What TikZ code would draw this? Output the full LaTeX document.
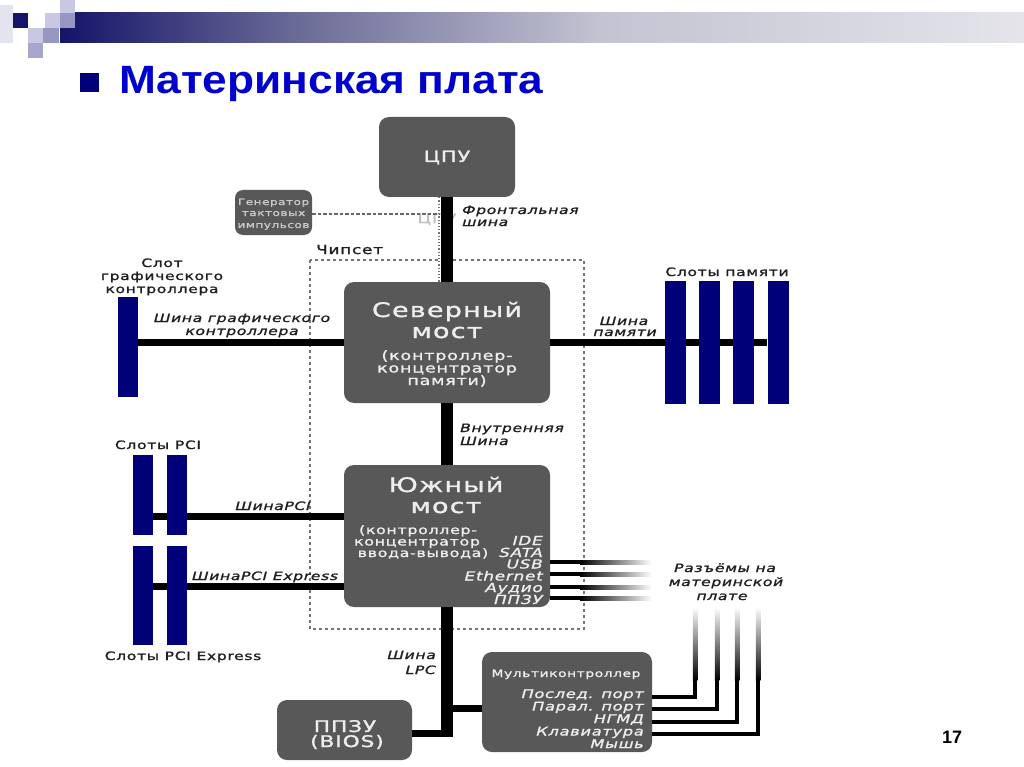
\documentclass[tikz,border=0pt]{standalone}
\usepackage{fontspec}
\setmainfont{Liberation Sans}
\newfontfamily\dv[FakeStretch=1.35,LetterSpace=6,FakeBold=1.4]{DejaVu Sans}
\newfontfamily\ttlfont[FakeStretch=1.12]{Liberation Sans}
\usetikzlibrary{calc}
\definecolor{boxgray}{RGB}{88,88,88}
\definecolor{boxtext}{RGB}{238,238,238}
\definecolor{labtext}{RGB}{30,30,30}
\definecolor{slotblue}{RGB}{0,0,120}
\definecolor{chipgray}{RGB}{110,120,110}
\definecolor{titleblue}{RGB}{0,0,204}
\definecolor{navyA}{RGB}{20,20,105}
\definecolor{bandB}{RGB}{105,105,150}
\definecolor{bandC}{RGB}{195,195,210}
\definecolor{bandD}{RGB}{228,228,234}
\definecolor{sqMed}{RGB}{150,150,195}
\definecolor{sqLight}{RGB}{200,200,228}
\definecolor{sqPale}{RGB}{228,228,240}
\pgfdeclarehorizontalshading{band}{100bp}{color(0bp)=(navyA); color(25bp)=(navyA); color(37bp)=(bandB); color(53bp)=(bandC); color(75bp)=(bandD); color(100bp)=(bandD)}
\begin{document}
\begin{tikzpicture}[x=1pt,y=-1pt,
  box/.style={fill=boxgray, rounded corners=10pt, inner sep=0pt},
  slot/.style={fill=slotblue, inner sep=0pt},
  bus/.style={line width=7pt},
  fatbus/.style={line width=12pt},
  outlet/.style={line width=4pt},
  lab/.style={inner sep=0pt, anchor=base, text=labtext, font=\dv\fontsize{11.5}{13}\selectfont},
  ilab/.style={lab, font=\dv\itshape\fontsize{11.5}{13}\selectfont},
  wl/.style={inner sep=0pt, anchor=base, text=boxtext},
  chip/.style={draw=chipgray, dashed, line width=1.1pt},
]
\useasboundingbox (0,0) rectangle (1024,767);
\fill[white] (0,0) rectangle (1024,767);
% header
\shade[shading=band] (60,13) rectangle (1024,43);
\fill[sqPale] (0,5) rectangle (13,28);
\fill[sqPale] (0,28) rectangle (13,43);
\fill[sqLight] (60,0) rectangle (75,13);
\fill[navyA] (13,13) rectangle (28,28);
\fill[sqLight] (45,13) rectangle (60,28);
\fill[sqMed] (60,13) rectangle (75,28);
\fill[sqLight] (28,28) rectangle (43,43);
\fill[sqMed] (43,28) rectangle (59,43);
\fill[sqMed!85] (28,43) rectangle (43,58);
\fill[slotblue] (80,73) rectangle (99,92);
\node[anchor=base west, inner sep=0pt, text=titleblue, font=\ttlfont\bfseries\fontsize{39.5}{44}\selectfont] (title) at (119,94) {Материнская плата};
\node[anchor=base, inner sep=0pt, font=\bfseries\fontsize{18}{20}\selectfont] (pagenum) at (952,743) {17};

% chipset frame
\draw[chip] (310,260) rectangle (584,629);
\node[lab, anchor=base west, font=\dv\fontsize{12.5}{14}\selectfont] (chiplab) at (316,254) {Чипсет};

% boxes
\node[box, minimum width=136pt, minimum height=80pt] (cpu) at (447,157) {};
\node[box, rounded corners=8pt, minimum width=77pt, minimum height=45pt] (clk) at (273.5,212.5) {};
\node[box, minimum width=206pt, minimum height=121pt] (nb) at (447,342.5) {};
\node[box, minimum width=206pt, minimum height=142pt] (sb) at (447,536) {};
\node[box, minimum width=135pt, minimum height=60pt] (bios) at (344.5,730) {};
\node[box, minimum width=170pt, minimum height=100pt] (mc) at (567,702) {};

% ghost text and clock line
\node[wl, text=black!25, font=\dv\fontsize{13}{14}\selectfont] (ghost) at (437,223) {ЦПУ};
\coordinate (clkx) at ($(cpu.south)+(-8,0)$);
\draw[black!60, dash pattern=on 3.5pt off 2pt, line width=1.2pt] ($(clk.east)+(0,1.5)$) -- ($(clk.east -| clkx)+(0,1.5)$);
\draw[chipgray, dotted, line width=1.2pt] (clkx) -- (clkx |- nb.north);

% buses
\draw[fatbus] (cpu.south) -- (cpu.south |- nb.north);
\draw[fatbus] (nb.south) -- (sb.north);
\coordinate (lpcend) at (447,736.5);
\draw[fatbus] (sb.south) -- (lpcend);
\draw[bus] ($(lpcend)+(6,-3.5)$) -- ($(lpcend -| bios.east)+(0,-3.5)$);
\draw[bus] ($(mc.west)+(0,6)$) -- ($(mc.west -| sb.south)+(0,6)$);

% slots
\node[slot, minimum width=20pt, minimum height=100pt] (gfx) at (128,347) {};
\node[slot, minimum width=21pt, minimum height=123pt] (m1) at (675.5,342.5) {};
\node[slot, minimum width=21pt, minimum height=123pt] (m2) at (709.5,342.5) {};
\node[slot, minimum width=21pt, minimum height=123pt] (m3) at (743.5,342.5) {};
\node[slot, minimum width=21pt, minimum height=123pt] (m4) at (778,342.5) {};
\node[slot, minimum width=20pt, minimum height=80pt] (p1) at (143,495) {};
\node[slot, minimum width=20pt, minimum height=80pt] (p2) at (177,495) {};
\node[slot, minimum width=20pt, minimum height=99pt] (e1) at (143,595.5) {};
\node[slot, minimum width=20pt, minimum height=99pt] (e2) at (177,595.5) {};

\draw[bus] (nb.west) -- (nb.west -| gfx.east);
\draw[bus] (nb.east) -- (nb.east -| m4.west);
\draw[bus] ($(sb.west)+(0,-20)$) -- ($(sb.west -| p1.east)+(0,-20)$);
\draw[bus] ($(sb.west)+(0,50)$) -- ($(sb.west -| e1.east)+(0,50)$);
% redraw slots over the buses
\node[slot, minimum width=21pt, minimum height=123pt] (m1b) at (m1) {};
\node[slot, minimum width=21pt, minimum height=123pt] (m2b) at (m2) {};
\node[slot, minimum width=21pt, minimum height=123pt] (m3b) at (m3) {};
\node[slot, minimum width=20pt, minimum height=80pt] (p2b) at (p2) {};
\node[slot, minimum width=20pt, minimum height=99pt] (e2b) at (e2) {};

% south bridge outlets
\foreach \yy in {562,574,587,598}{
  \fill[black] (550,\yy-2) rectangle (580,\yy+2);
  \shade[left color=black, right color=white] (580,\yy-2) rectangle (652,\yy+2);
}
% multicontroller outlets
\foreach \xx/\dy in {695/-5,717/7,737/20,758/32}{
  \shade[top color=white, bottom color=black] (\xx-2.25,607) rectangle (\xx+2.25,680);
  \draw[outlet] ($(mc.east)+(0,\dy)$) -| (\xx,680);
}

% box texts
\node[wl, font=\dv\fontsize{15.5}{17}\selectfont] (cput) at (447,162) {ЦПУ};
\node[wl, text=boxtext!85!black, font=\dv\fontsize{8.9}{10}\selectfont] (clk1) at (273.5,205) {Генератор};
\node[wl, text=boxtext!85!black, font=\dv\fontsize{8.9}{10}\selectfont] (clk2) at (273.5,216) {тактовых};
\node[wl, text=boxtext!85!black, font=\dv\fontsize{8.9}{10}\selectfont] (clk3) at (273.5,228) {импульсов};

\node[wl, font=\dv\fontsize{20}{22}\selectfont] (nb1) at (447,317) {Северный};
\node[wl, font=\dv\fontsize{20}{22}\selectfont] (nb2) at (447,338) {мост};
\node[wl, font=\dv\fontsize{13}{14}\selectfont] (nb3) at (447,360) {(контроллер-};
\node[wl, font=\dv\fontsize{13}{14}\selectfont] (nb4) at (447,372.5) {концентратор};
\node[wl, font=\dv\fontsize{13}{14}\selectfont] (nb5) at (447,385) {памяти)};

\node[wl, font=\dv\fontsize{20}{22}\selectfont] (sb1) at (446,492) {Южный};
\node[wl, font=\dv\fontsize{20}{22}\selectfont] (sb2) at (446,513) {мост};
\node[wl, font=\dv\fontsize{11.7}{13}\selectfont] (sb3) at (418,534) {(контроллер-};
\node[wl, font=\dv\fontsize{11.7}{13}\selectfont] (sb4) at (417,545.5) {концентратор};
\node[wl, font=\dv\fontsize{11.7}{13}\selectfont] (sb5) at (423,557) {ввода-вывода)};
\foreach \t/\yy/\nm in {IDE/545/i1,SATA/557/i2,USB/568.5/i3,Ethernet/580.5/i4,Аудио/592/i5,ППЗУ/604/i6}
  \node[wl, anchor=base east, font=\dv\itshape\fontsize{12.5}{13}\selectfont] (\nm) at (543,\yy) {\t};

\node[wl, font=\dv\fontsize{16}{18}\selectfont] (bios1) at (345,732) {ППЗУ};
\node[wl, font=\dv\fontsize{16}{18}\selectfont] (bios2) at (347,747) {(BIOS)};

\node[wl, font=\dv\fontsize{10.2}{12}\selectfont] (mct) at (566,677) {Мультиконтроллер};
\foreach \t/\yy/\nm in {Послед. порт/698/q1,Парал. порт/710.5/q2,НГМД/723/q3,Клавиатура/735.5/q4,Мышь/748/q5}
  \node[wl, anchor=base east, font=\dv\itshape\fontsize{12}{13}\selectfont] (\nm) at (644,\yy) {\t};

% outside labels
\node[ilab, anchor=base west] (fsb1) at (462,214) {Фронтальная};
\node[ilab, anchor=base west] (fsb2) at (462,226) {шина};
\node[lab] (gs1) at (162,267) {Слот};
\node[lab] (gs2) at (162,280) {графического};
\node[lab] (gs3) at (162,293) {контроллера};
\node[ilab] (agp1) at (242,322) {Шина графического};
\node[ilab] (agp2) at (242,335) {контроллера};
\node[lab] (ms) at (727,276) {Слоты памяти};
\node[ilab] (mb1) at (624,325) {Шина};
\node[ilab] (mb2) at (625,336) {памяти};
\node[ilab, anchor=base west] (ib1) at (460,432) {Внутренняя};
\node[ilab, anchor=base west] (ib2) at (460,445) {Шина};
\node[lab] (pcis) at (158,449) {Слоты PCI};
\node[ilab] (pcib) at (273,510) {ШинаPCI};
\node[ilab] (pcieb) at (265,580) {ШинаPCI Express};
\node[lab] (pcies) at (183,660) {Слоты PCI Express};
\node[ilab] (con1) at (725,572) {Разъёмы на};
\node[ilab] (con2) at (726,586) {материнской};
\node[ilab] (con3) at (722,600) {плате};
\node[ilab, anchor=base east] (lpc1) at (436,659) {Шина};
\node[ilab, anchor=base east] (lpc2) at (436,674) {LPC};
\end{tikzpicture}
\end{document}
